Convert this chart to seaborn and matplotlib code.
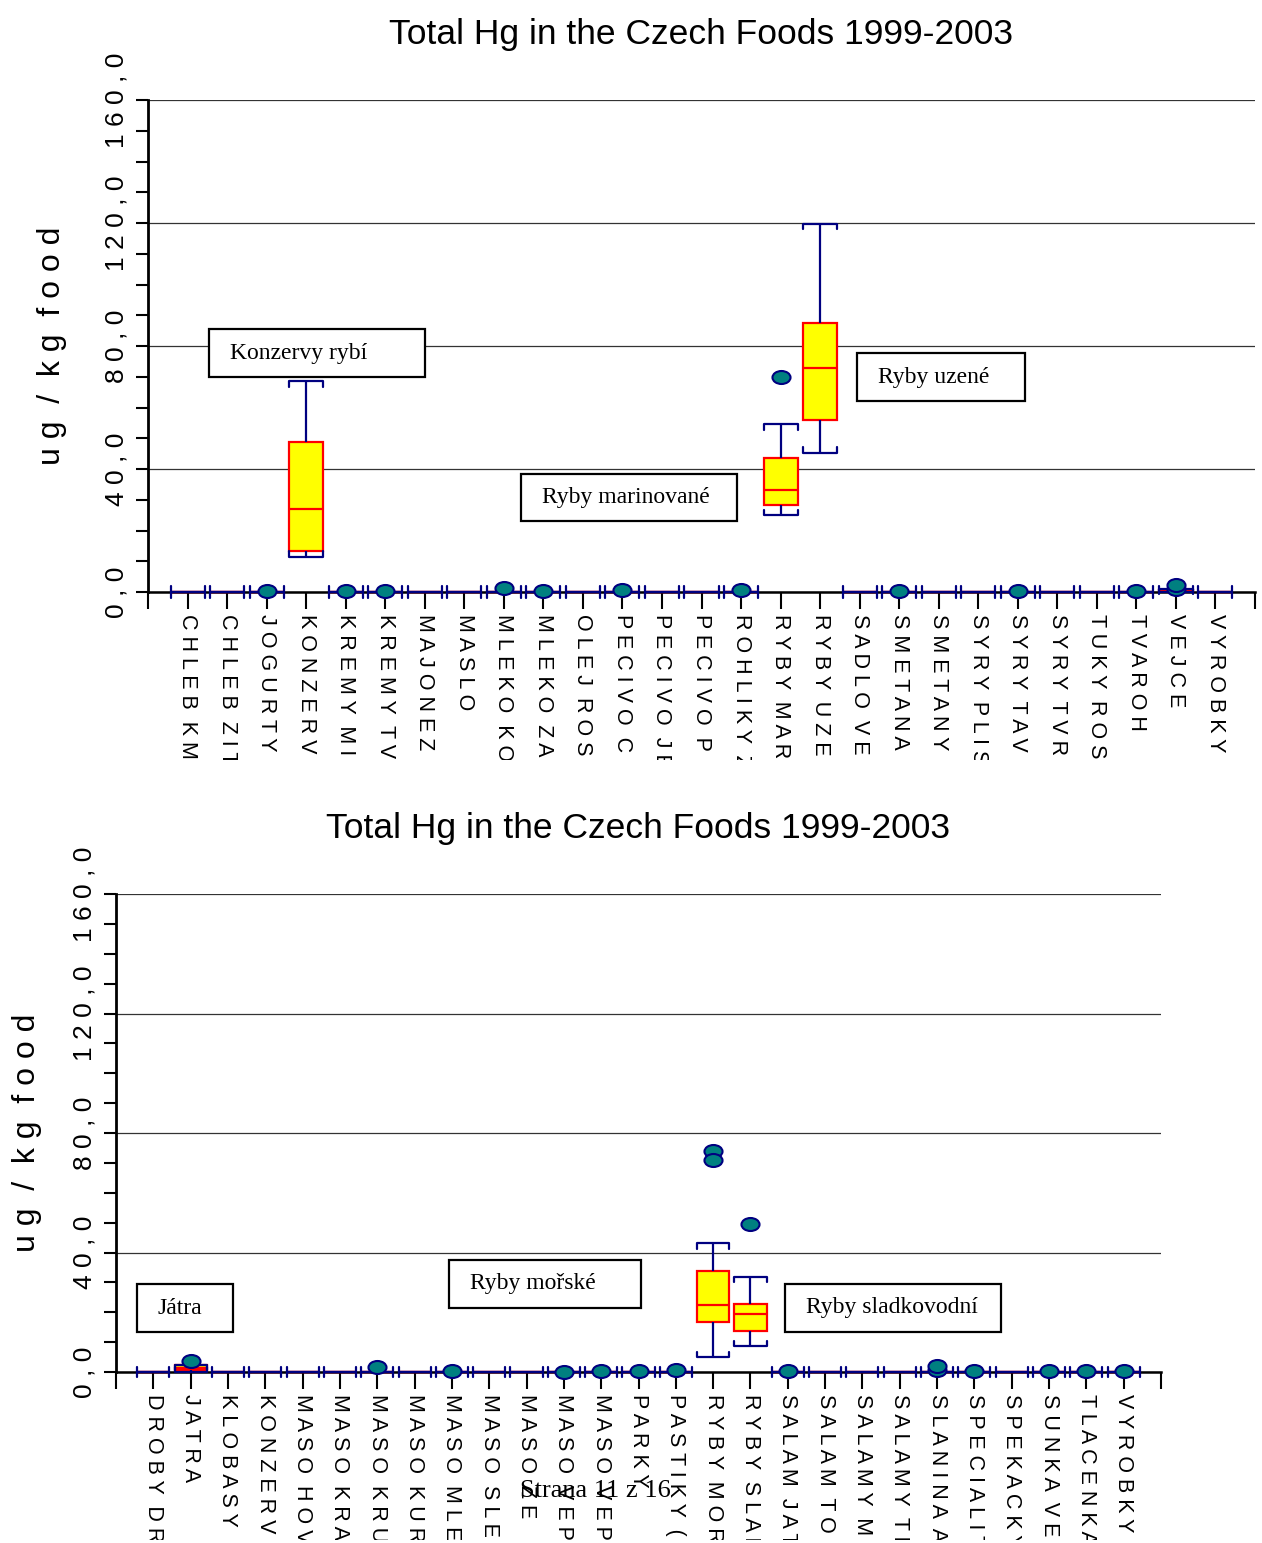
import numpy as np
import pandas as pd
import seaborn as sns
import matplotlib.pyplot as plt
from matplotlib.colors import to_hex
from matplotlib.patches import Rectangle
from matplotlib.path import Path
from matplotlib.ticker import MultipleLocator
from matplotlib.transforms import Bbox

sns.set_style("white")
plt.rcParams["font.family"] = ["Liberation Sans", "DejaVu Sans"]
plt.rcParams["text.color"] = "black"
plt.rcParams["axes.labelcolor"] = "black"
plt.rcParams["xtick.color"] = "black"
plt.rcParams["ytick.color"] = "black"

W, H = 1262, 1543
NAVY = "#000080"
TEAL = "#008080"

title = "Total Hg in the Czech Foods 1999-2003"
ylabel = "ug / kg food"
ytick_values = [0, 40, 80, 120, 160]
ytick_labels = ["0,0", "40,0", "80,0", "120,0", "160,0"]

# horni graf
cats_top = ["CHLEB KM", "CHLEB ZIT", "JOGURTY", "KONZERV", "KREMY MI", "KREMY TV",
            "MAJONEZ", "MASLO", "MLEKO KO", "MLEKO ZA", "OLEJ ROS", "PECIVO C",
            "PECIVO JE", "PECIVO P", "ROHLIKY Z", "RYBY MAR", "RYBY UZE", "SADLO VE",
            "SMETANA", "SMETANY", "SYRY PLIS", "SYRY TAV", "SYRY TVR", "TUKY ROS",
            "TVAROH", "VEJCE", "VYROBKY"]
# dolni vous, Q1, median, Q3, horni vous (ug/kg)
lo_top = [0, 0, 0, 11.4, 0, 0, 0, 0, 0, 0, 0, 0, 0, 0, 0, 25.0, 45.2, 0, 0, 0, 0, 0, 0, 0, 0, 0, 0]
q1_top = [0, 0, 0, 13.3, 0, 0, 0, 0, 0, 0, 0, 0, 0, 0, 0, 28.3, 55.9, 0, 0, 0, 0, 0, 0, 0, 0, 0.2, 0]
med_top = [0, 0, 0, 27.0, 0, 0, 0, 0, 0, 0, 0, 0, 0, 0, 0, 33.2, 72.8, 0, 0, 0, 0, 0, 0, 0, 0, 0.4, 0]
q3_top = [0, 0, 0, 48.8, 0, 0, 0, 0, 0, 0, 0, 0, 0, 0, 0, 43.6, 87.5, 0, 0, 0, 0, 0, 0, 0, 0, 0.6, 0]
hi_top = [0, 0, 0, 68.6, 0, 0, 0, 0, 0, 0, 0, 0, 0, 0, 0, 54.6, 119.7, 0, 0, 0, 0, 0, 0, 0, 0, 1.0, 0]
out_top_pos = [2, 4, 5, 8, 9, 11, 14, 15, 18, 21, 24, 25, 25]
out_top_val = [0.3, 0.3, 0.4, 1.3, 0.2, 0.5, 0.6, 69.9, 0.3, 0.4, 0.3, 0.9, 2.2]

# dolni graf
cats_bot = ["DROBY DR", "JATRA", "KLOBASY", "KONZERVY", "MASO HOV", "MASO KRA",
            "MASO KRU", "MASO KUR", "MASO MLE", "MASO SLE", "MASO ZE", "MASO VEP",
            "MASO VEP", "PARKY", "PASTIKY (K", "RYBY MOR", "RYBY SLAD", "SALAM JAT",
            "SALAM TO", "SALAMY M", "SALAMY TR", "SLANINA A", "SPECIALIT", "SPEKACKY",
            "SUNKA VE", "TLACENKA", "VYROBKY"]
lo_bot = [0, 0, 0, 0, 0, 0, 0, 0, 0, 0, 0, 0, 0, 0, 0, 5.0, 8.7, 0, 0, 0, 0, 0, 0, 0, 0, 0, 0]
q1_bot = [0, 0.7, 0, 0, 0, 0, 0, 0, 0, 0, 0, 0, 0, 0, 0, 16.7, 13.7, 0, 0, 0, 0, 0, 0, 0, 0, 0, 0]
med_bot = [0, 1.4, 0, 0, 0, 0, 0, 0, 0, 0, 0, 0, 0, 0, 0, 22.4, 19.4, 0, 0, 0, 0, 0, 0, 0, 0, 0, 0]
q3_bot = [0, 2.3, 0, 0, 0, 0, 0, 0, 0, 0, 0, 0, 0, 0, 0, 33.8, 22.7, 0, 0, 0, 0, 0, 0, 0, 0, 0, 0]
hi_bot = [0, 2.5, 0, 0, 0, 0, 0, 0, 0, 0, 0, 0, 0, 0, 0, 43.1, 31.8, 0, 0, 0, 0, 0, 0, 0, 0, 0, 0]
out_bot_pos = [1, 6, 8, 11, 12, 13, 14, 15, 15, 16, 17, 21, 21, 22, 24, 25, 26]
out_bot_val = [3.7, 1.7, 0.3, 0.1, 0.3, 0.4, 0.6, 73.9, 70.9, 49.5, 0.4, 0.6, 1.9, 0.4, 0.4, 0.3, 0.4]

notes_top = ["Konzervy rybí", "Ryby marinované", "Ryby uzené"]
notes_bot = ["Játra", "Ryby mořské", "Ryby sladkovodní"]


def spaced(s):
    return "  ".join(" ".join(w) for w in s.split(" "))


def long_table(lo, q1, med, q3, hi):
    rows = []
    for i, five in enumerate(zip(lo, q1, med, q3, hi)):
        rows += [(i, v) for v in five]
    return pd.DataFrame(rows, columns=["pos", "hg"])


circ = Path.unit_circle()
ellipse = Path(circ.vertices * [1.0, 0.72], circ.codes)

fig = plt.figure(figsize=(W / 100, H / 100), dpi=100)


def draw_panel(px_box, cats, five, out_pos, out_val, ylab_x, clip_y):
    x0, y0, x1, y1 = px_box
    ax = fig.add_axes([x0 / W, 1 - y1 / H, (x1 - x0) / W, (y1 - y0) / H])
    order = list(range(len(cats)))
    width = 0.86
    sns.boxplot(data=long_table(*five), x="pos", y="hg", order=order, whis=(0, 100),
                width=width, color="yellow", saturation=1, linecolor="red",
                linewidth=1.6, showfliers=False, whiskerprops={"color": NAVY},
                capprops={"color": NAVY}, ax=ax)

    # zahnute konce vousu
    hook = 1.8
    caps = {}
    for ln in ax.lines:
        xs, ys = np.asarray(ln.get_xdata(), float), np.asarray(ln.get_ydata(), float)
        if to_hex(ln.get_color()) == NAVY and np.ptp(ys) == 0 and np.ptp(xs) > 0:
            caps.setdefault(int(round(xs.mean())), []).append(ln)
    for c, lines in caps.items():
        lines.sort(key=lambda l: l.get_ydata()[0])
        for k, ln in enumerate(lines):
            y = ln.get_ydata()[0]
            h = hook if k == 0 else -hook
            ln.set_data([c - width / 2, c - width / 2, c + width / 2, c + width / 2],
                        [y + h, y, y, y + h])
    for art in list(ax.lines) + list(ax.patches):
        art.set_clip_on(False)
        art.set_zorder(3)
    for ln in ax.lines:
        ln.set_zorder(4 if to_hex(ln.get_color()) == NAVY else 3.5)

    sns.stripplot(x=out_pos, y=out_val, order=order, jitter=False, marker=ellipse,
                  size=13, color=TEAL, edgecolor=NAVY, linewidth=1.5, zorder=6,
                  clip_on=False, ax=ax)

    ax.set_xlim(-1, len(cats))
    ax.set_ylim(0, 160)
    ax.set_xticks(range(-1, len(cats) + 1))
    ax.set_xticklabels([""] + [spaced(c) for c in cats] + [""])
    ax.set_yticks(ytick_values)
    ax.set_yticklabels([spaced(t) for t in ytick_labels], va="center")
    ax.yaxis.set_minor_locator(MultipleLocator(10))
    ax.tick_params(axis="x", bottom=True, length=12, width=1.5, pad=4,
                   labelsize=15.5, labelrotation=-90, color="black")
    ax.tick_params(axis="y", which="both", left=True, length=9, width=1.5, pad=5,
                   labelsize=19, labelrotation=90, color="black")
    ax.grid(axis="y", color="#333333", linewidth=0.9)
    ax.grid(axis="x", visible=False)
    ax.set_axisbelow(True)
    ax.set_xlabel("")
    ax.set_ylabel(spaced(ylabel), fontsize=23, va="center")
    ax.yaxis.set_label_coords(ylab_x, 0.5)
    ax.set_title(title, fontsize=25.5, pad=40)
    ax.spines["top"].set_visible(False)
    ax.spines["right"].set_visible(False)
    ax.spines["left"].set_linewidth(2)
    ax.spines["bottom"].set_linewidth(1.8)
    ax.spines["left"].set_color("black")
    ax.spines["bottom"].set_color("black")

    clip = Bbox.from_extents(0, H - clip_y, W, H)
    for t in ax.get_xticklabels():
        t.set_clip_box(clip)
        t.set_clip_on(True)
    return ax


def note(text, x0, y0, x1, y1):
    fig.add_artist(Rectangle((x0 / W, 1 - y1 / H), (x1 - x0) / W, (y1 - y0) / H,
                             transform=fig.transFigure, facecolor="white",
                             edgecolor="black", linewidth=1.6, zorder=5))
    fig.text((x0 + 21) / W, 1 - (y0 + y1) / 2 / H, text, fontsize=17,
             family=["Liberation Serif", "DejaVu Serif"], ha="left", va="center", zorder=6)


draw_panel((148, 100, 1255, 592), cats_top,
           (lo_top, q1_top, med_top, q3_top, hi_top), out_top_pos, out_top_val,
           -0.087, 760)
draw_panel((116, 894, 1161, 1372), cats_bot,
           (lo_bot, q1_bot, med_bot, q3_bot, hi_bot), out_bot_pos, out_bot_val,
           -0.085, 1540)

for text, box in zip(notes_top, [(209, 329, 425, 377), (521, 474, 737, 521), (857, 353, 1025, 401)]):
    note(text, *box)
for text, box in zip(notes_bot, [(137, 1284, 233, 1332), (449, 1260, 641, 1308), (785, 1284, 1001, 1332)]):
    note(text, *box)

fig.text(520 / W, 1 - 1497 / H, "Strana 11 z 16", fontsize=19,
         family=["Liberation Serif", "DejaVu Serif"], va="baseline", zorder=7)

fig.savefig("out.png", dpi=100)
